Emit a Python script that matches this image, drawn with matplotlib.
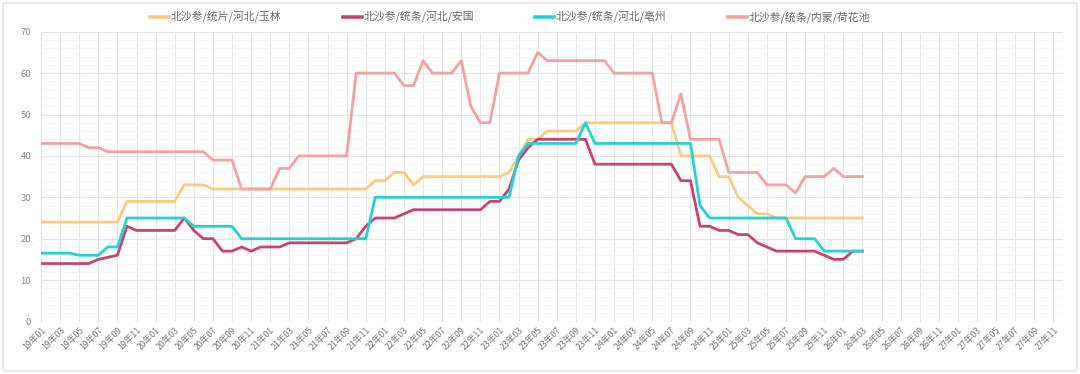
import matplotlib
matplotlib.use("Agg")
import matplotlib.pyplot as plt
from matplotlib.lines import Line2D
from matplotlib.patches import FancyBboxPatch
import numpy as np

plt.rcParams['font.family'] = ['Noto Sans CJK SC', 'DejaVu Sans']

# month categories 19年01 .. 27年12
months = [f"{y:02d}年{m:02d}" for y in range(19, 28) for m in range(1, 13)]

names = ['北沙参/统片/河北/玉林', '北沙参/统条/河北/安国',
         '北沙参/统条/河北/亳州', '北沙参/统条/内蒙/荷花池']

yulin = [24, 24, 24, 24, 24, 24, 24, 24, 24,
         29, 29, 29, 29, 29, 29,
         33, 33, 33,
         32, 32, 32, 32, 32, 32, 32, 32, 32, 32, 32, 32, 32, 32, 32, 32, 32,
         34, 34, 36, 36, 33,
         35, 35, 35, 35, 35, 35, 35, 35, 35,
         36, 40, 44, 44, 46, 46, 46, 46,
         48, 48, 48, 48, 48, 48, 48, 48, 48, 48,
         40, 40, 40, 40, 35, 35, 30, 28, 26, 26,
         25, 25, 25, 25, 25, 25, 25, 25, 25, 25]

anguo = [14, 14, 14, 14, 14, 14, 15, 15.5, 16,
         23, 22, 22, 22, 22, 22, 25, 22, 20, 20, 17, 17,
         18, 17, 18, 18, 18,
         19, 19, 19, 19, 19, 19, 19,
         20, 23, 25, 25, 25, 26,
         27, 27, 27, 27, 27, 27, 27, 27,
         29, 29, 32, 39, 42,
         44, 44, 44, 44, 44, 44,
         38, 38, 38, 38, 38, 38, 38, 38, 38,
         34, 34, 23, 23, 22, 22, 21, 21, 19, 18,
         17, 17, 17, 17, 17, 16, 15, 15, 17, 17]

bozhou = [16.5, 16.5, 16.5, 16.5, 16, 16, 16, 18, 18,
          25, 25, 25, 25, 25, 25, 25,
          23, 23, 23, 23, 23,
          20, 20, 20, 20, 20, 20, 20, 20, 20, 20, 20, 20, 20, 20,
          30, 30, 30, 30, 30, 30, 30, 30, 30, 30, 30, 30, 30, 30, 30,
          40, 43, 43, 43, 43, 43, 43, 48,
          43, 43, 43, 43, 43, 43, 43, 43, 43, 43, 43,
          28, 25, 25, 25, 25, 25, 25, 25, 25, 25,
          20, 20, 20, 17, 17, 17, 17, 17]

hehuachi = [43, 43, 43, 43, 43, 42, 42,
            41, 41, 41, 41, 41, 41, 41, 41, 41, 41, 41,
            39, 39, 39, 32, 32, 32, 32, 37, 37,
            40, 40, 40, 40, 40, 40,
            60, 60, 60, 60, 60, 57, 57, 63, 60, 60, 60, 63, 52, 48, 48,
            60, 60, 60, 60, 65,
            63, 63, 63, 63, 63, 63, 63,
            60, 60, 60, 60, 60, 48, 48, 55,
            44, 44, 44, 44, 36, 36, 36, 36, 33, 33, 33, 31,
            35, 35, 35, 37, 35, 35, 35]

series = [yulin, anguo, bozhou, hehuachi]
colors = ['#fbca7c', '#c8436f', '#23d2d2', '#f6a1a1']

W, H = 1080, 374
fig = plt.figure(figsize=(W / 100, H / 100), dpi=100)
ax = fig.add_axes([41 / W, 1 - 321.5 / H, (1063 - 41) / W, (321.5 - 31.7) / H])

# outer frame
fig.patches.append(FancyBboxPatch((3 / W, 3 / H), 1 - 6 / W, 1 - 6 / H,
                                  boxstyle="round,pad=0,rounding_size=0.004",
                                  transform=fig.transFigure, fill=False,
                                  edgecolor='#e2e2e2', linewidth=1.0))

for vals, c in zip(series, colors):
    ax.plot(np.arange(len(vals)), vals, color=c, linewidth=2.0,
            solid_joinstyle='round', zorder=3)

ax.set_xlim(0, len(months) - 1)
ax.set_ylim(0, 70)
ax.set_yticks(range(0, 71, 10))
ax.set_yticks(range(0, 71, 2), minor=True)
ax.set_xticks(range(0, len(months), 2))
ax.set_xticklabels(months[::2], rotation=45, ha='right', va='top',
                   rotation_mode='anchor', fontsize=6.3, color='#777777')
ax.tick_params(axis='y', labelsize=6.8, labelcolor='#888888', length=0, pad=7)
ax.tick_params(axis='x', length=0, pad=3)
ax.tick_params(which='minor', length=0)
ax.grid(which='major', axis='both', color='#e6e6e6', linewidth=0.8, zorder=0)
ax.grid(which='minor', axis='y', color='#f5f5f5', linewidth=0.6, zorder=0)
for s in ax.spines.values():
    s.set_visible(False)

# legend row
leg_x = [150, 343, 535, 728]
for x0, name, c in zip(leg_x, names, colors):
    fig.add_artist(Line2D([x0 / W, (x0 + 19) / W], [1 - 17 / H, 1 - 17 / H],
                          color=c, linewidth=2.6, transform=fig.transFigure))
    fig.text((x0 + 21) / W, 1 - 17 / H, name, fontsize=7.8, color='#666666',
             ha='left', va='center')

fig.savefig('out.png', dpi=100)
plt.close(fig)
